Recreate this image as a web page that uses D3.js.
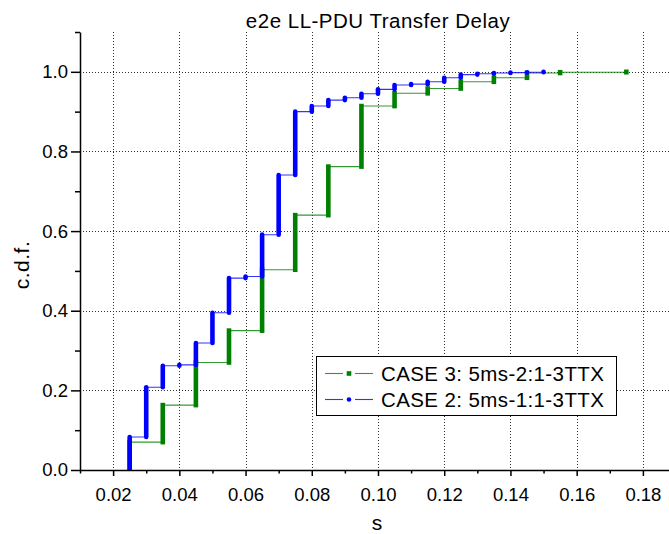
<!DOCTYPE html>
<html>
<head>
<meta charset="utf-8">
<script src="https://cdn.jsdelivr.net/npm/d3@7"></script>
<style>
  html, body { margin: 0; padding: 0; background: #fff; }
  svg { display: block; font-family: "Liberation Sans", Arial, Helvetica, sans-serif; }
</style>
</head>
<body>
<svg id="chart" width="669" height="534"></svg>
<script>
// Empirical c.d.f. of end-to-end LL-PDU transfer delay (s): level reached after each delay value
const case2Delay = [0.025, 0.030, 0.035, 0.040, 0.045, 0.050, 0.055, 0.060, 0.065, 0.070, 0.075, 0.080, 0.085,
                    0.090, 0.095, 0.100, 0.105, 0.110, 0.115, 0.120, 0.125, 0.130, 0.135, 0.140, 0.145, 0.150];
const case2Cdf   = [0.083, 0.208, 0.262, 0.264, 0.319, 0.395, 0.482, 0.486, 0.591, 0.741, 0.900, 0.914, 0.929,
                    0.935, 0.945, 0.956, 0.967, 0.969, 0.975, 0.985, 0.993, 0.995, 0.997, 0.998, 0.999, 1.000];

const case3Delay = [0.025, 0.035, 0.045, 0.055, 0.065, 0.075, 0.085, 0.095, 0.105, 0.115, 0.125, 0.135, 0.145, 0.155, 0.175];
const case3Cdf   = [0.070, 0.163, 0.270, 0.350, 0.503, 0.640, 0.762, 0.914, 0.946, 0.958, 0.975, 0.985, 0.997, 0.999, 1.000];

const seriesNames = ["CASE 3: 5ms-2:1-3TTX", "CASE 2: 5ms-1:1-3TTX"];

const xMajorTicks = [0.02, 0.04, 0.06, 0.08, 0.10, 0.12, 0.14, 0.16, 0.18];
const xMinorTicks = [0.01, 0.03, 0.05, 0.07, 0.09, 0.11, 0.13, 0.15, 0.17, 0.19];
const yMajorTicks = [0, 0.2, 0.4, 0.6, 0.8, 1.0];
const yMinorTicks = [0.1, 0.3, 0.5, 0.7, 0.9, 1.1];

const titleText = "e2e LL-PDU Transfer Delay";
const xTitle = "s";
const yTitle = "c.d.f.";

const W = 669, H = 534;
const svg = d3.select("#chart");

const x = d3.scaleLinear().domain([0.01, 0.19]).range([80, 676]);
const y = d3.scaleLinear().domain([0, 1.1]).range([470, 32]);

const green = "#008000", blue = "#0000ff";

// grid
const grid = svg.append("g").attr("stroke", "#333").attr("stroke-width", 1).attr("stroke-dasharray", "1,2");
grid.selectAll("line.v").data(xMajorTicks).join("line")
  .attr("x1", d => Math.round(x(d)) + 0.5).attr("x2", d => Math.round(x(d)) + 0.5)
  .attr("y1", y(1.1)).attr("y2", y(0));
grid.selectAll("line.h").data(yMajorTicks.filter(v => v > 0)).join("line")
  .attr("y1", d => Math.round(y(d)) + 0.5).attr("y2", d => Math.round(y(d)) + 0.5)
  .attr("x1", x(0.01)).attr("x2", W);

// plot clip
svg.append("clipPath").attr("id", "plotClip").append("rect")
  .attr("x", x(0.01)).attr("y", 0).attr("width", W - x(0.01)).attr("height", y(0));

const plot = svg.append("g").attr("clip-path", "url(#plotClip)");

function drawSeries(delays, cdf, color, round) {
  const pts = [[delays[0], 0]].concat(delays.map((d, i) => [d, cdf[i]]));
  const line = d3.line().x(d => x(d[0])).y(d => y(d[1])).curve(d3.curveStepAfter);
  plot.append("path").attr("d", line(pts))
    .attr("fill", "none").attr("stroke", color).attr("stroke-width", 1.1).attr("opacity", 0.8);
  // stacked sample markers at each delay value
  const w = 4.6;
  const steps = delays.map((d, i) => ({ d, lo: i ? cdf[i - 1] : 0, hi: cdf[i] }));
  plot.append("g").selectAll("rect").data(steps).join("rect")
    .attr("x", s => x(s.d) - w / 2)
    .attr("y", s => y(s.hi) - w / 2)
    .attr("width", w)
    .attr("height", s => y(s.lo) - y(s.hi) + w)
    .attr("rx", round ? w / 2 : 0)
    .attr("fill", color);
}

drawSeries(case3Delay, case3Cdf, green, false);
drawSeries(case2Delay, case2Cdf, blue, true);

// axes
const axisStyle = g => {
  g.select(".domain").attr("stroke", "#000").attr("stroke-width", 1.5);
  g.selectAll(".tick line").attr("stroke", "#000").attr("stroke-width", 1.5);
};

const xAxis = svg.append("g").attr("transform", `translate(0,${y(0)})`)
  .call(d3.axisBottom(x).tickValues(xMajorTicks).tickFormat(d3.format(".2f"))
    .tickSize(6).tickSizeOuter(0).tickPadding(12))
  .call(axisStyle);
xAxis.selectAll("text").attr("font-size", 18.5).attr("fill", "#000")
  .attr("font-family", "'Liberation Sans', Arial, sans-serif");
svg.append("g").attr("transform", `translate(0,${y(0)})`)
  .call(d3.axisBottom(x).tickValues(xMinorTicks).tickFormat("").tickSize(3.5).tickSizeOuter(0))
  .call(axisStyle).select(".domain").remove();

const yAxis = svg.append("g").attr("transform", `translate(${x(0.01)},0)`)
  .call(d3.axisLeft(y).tickValues(yMajorTicks).tickFormat(d3.format(".1f"))
    .tickSize(9).tickSizeOuter(0).tickPadding(3))
  .call(axisStyle);
yAxis.selectAll("text").attr("font-size", 18.5).attr("fill", "#000")
  .attr("font-family", "'Liberation Sans', Arial, sans-serif");
svg.append("g").attr("transform", `translate(${x(0.01)},0)`)
  .call(d3.axisLeft(y).tickValues(yMinorTicks).tickFormat("").tickSize(5).tickSizeOuter(0))
  .call(axisStyle).select(".domain").remove();

// titles
svg.append("text").attr("x", 378).attr("y", 28).attr("text-anchor", "middle")
  .attr("font-size", 20.5).attr("letter-spacing", 0.5).text(titleText);
svg.append("text").attr("x", 377).attr("y", 530).attr("text-anchor", "middle")
  .attr("font-size", 21).text(xTitle);
svg.append("text").attr("transform", "translate(29,265) rotate(-90)").attr("text-anchor", "middle")
  .attr("font-size", 21).attr("letter-spacing", 0.5).text(yTitle);

// legend
const legend = svg.append("g");
legend.append("rect").attr("x", 316.5).attr("y", 356.5).attr("width", 300).attr("height", 59)
  .attr("fill", "#fff").attr("stroke", "#000").attr("stroke-width", 1);
const legendItems = [
  { name: seriesNames[0], color: green, round: false, cy: 373.5 },
  { name: seriesNames[1], color: blue, round: true, cy: 399.5 }
];
legendItems.forEach(it => {
  legend.append("line").attr("x1", 325).attr("x2", 343).attr("y1", it.cy).attr("y2", it.cy)
    .attr("stroke", it.color).attr("stroke-width", 1.1).attr("opacity", 0.8);
  legend.append("line").attr("x1", 355).attr("x2", 373).attr("y1", it.cy).attr("y2", it.cy)
    .attr("stroke", it.color).attr("stroke-width", 1.1).attr("opacity", 0.8);
  if (it.round) {
    legend.append("circle").attr("cx", 349).attr("cy", it.cy).attr("r", 2.3).attr("fill", it.color);
  } else {
    legend.append("rect").attr("x", 349 - 2.3).attr("y", it.cy - 2.3).attr("width", 4.6).attr("height", 4.6)
      .attr("fill", it.color);
  }
  legend.append("text").attr("x", 381).attr("y", it.cy + 7.3)
    .attr("font-size", 20.5).attr("letter-spacing", 0.4).text(it.name);
});
</script>
</body>
</html>
